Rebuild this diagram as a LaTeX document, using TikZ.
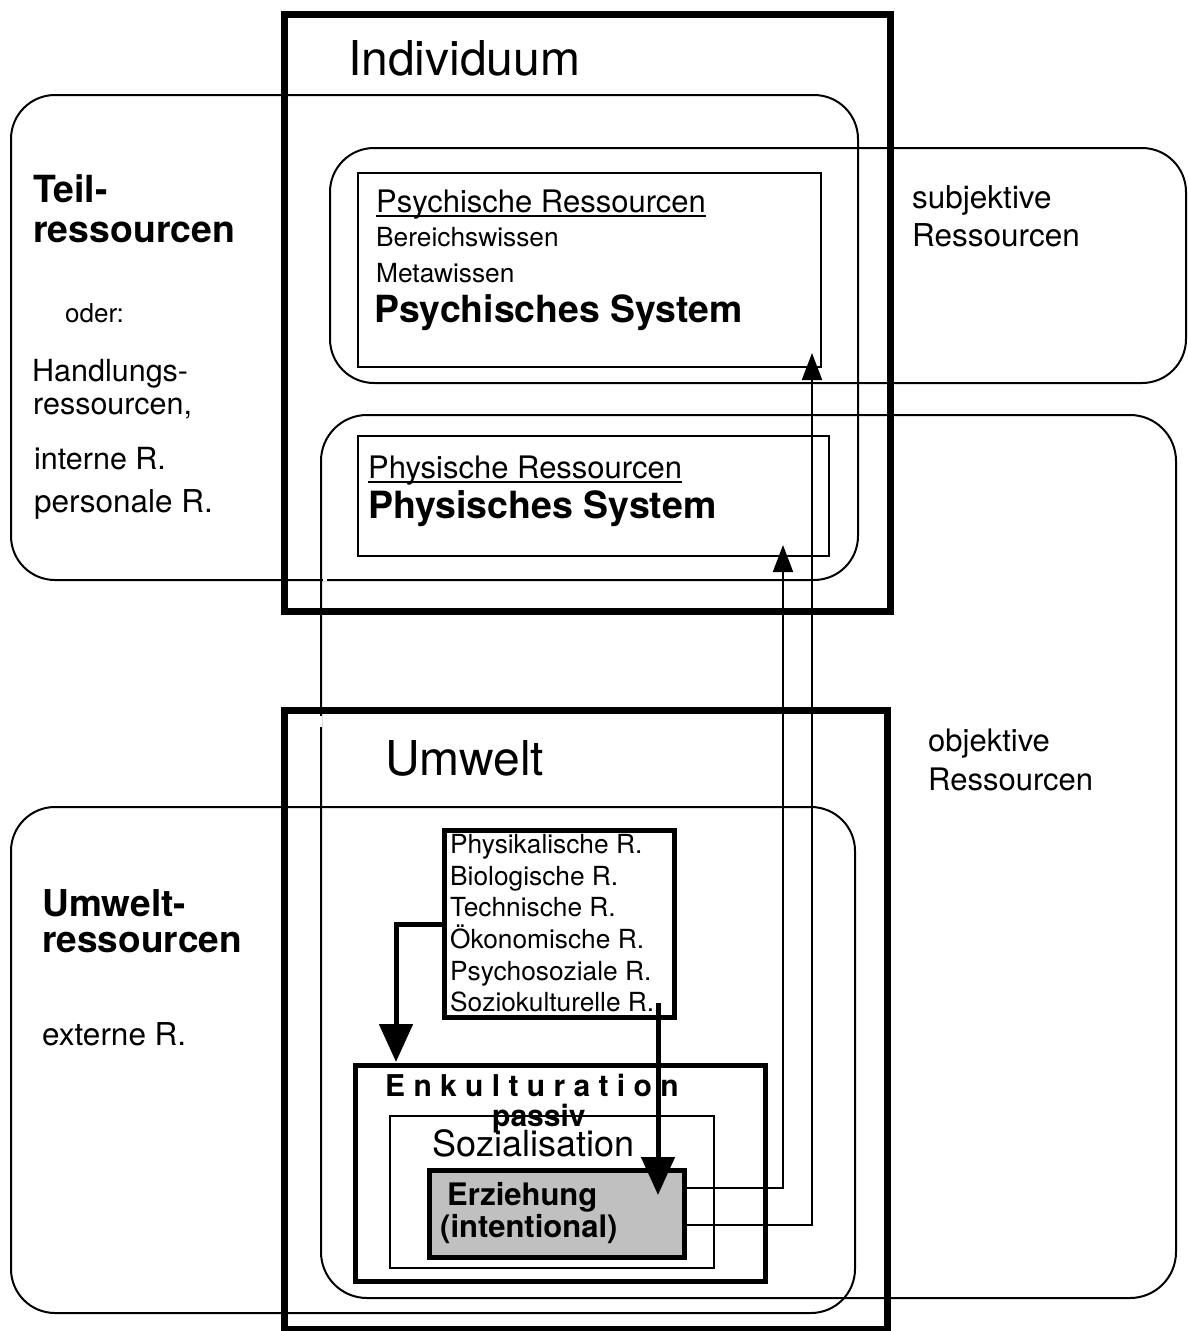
\documentclass[tikz,border=0pt]{standalone}
\usepackage{fontspec}
\setmainfont{TeX Gyre Heros}
\usetikzlibrary{arrows.meta}
\definecolor{erzgray}{HTML}{C0C0C0}
\begin{document}
\begin{tikzpicture}[x=1pt,y=-1pt,
  boxbase/.style={draw, inner sep=0pt, anchor=north west},
  rbox/.style={boxbase, line width=2pt, rounded corners=44pt},
  thinbox/.style={boxbase, line width=2pt},
  heavybox/.style={boxbase, line width=7pt},
  midbox/.style={boxbase, line width=5pt},
  txt/.style={inner sep=0pt, anchor=base west},
  thinarrow/.style={line width=2pt, -{Triangle[width=20pt,length=27pt]}},
  heavyarrow/.style={line width=5pt, -{Triangle[width=33pt,length=38pt]}},
  f/.style={font=\fontsize{#1}{#1}\selectfont},
  fb/.style={font=\fontsize{#1}{#1}\selectfont\bfseries}
]
\useasboundingbox (0,0) rectangle (1187,1331);

% rounded resource areas
\node[rbox, minimum width=847pt, minimum height=485pt] (teil) at (10,94) {};
\draw[white, line width=3pt] (322.5,579) -- (327,579);
\node[rbox, minimum width=856pt, minimum height=235pt] (subj) at (329,147) {};
\node[rbox, minimum width=855pt, minimum height=883pt, rounded corners=46pt] (objk) at (320,414) {};
\node[rbox, minimum width=844pt, minimum height=506pt] (umres) at (10,806) {};
\draw[white, line width=4pt] (320,716) -- (320,727);

% inner thin rectangles
\node[thinbox, minimum width=463pt, minimum height=194pt] (psy) at (357,172) {};
\node[thinbox, minimum width=471pt, minimum height=120pt] (phy) at (357,435) {};

% heavy frames
\node[heavybox, minimum width=606pt, minimum height=597pt] (indiv) at (281,11) {};
\node[heavybox, minimum width=603pt, minimum height=619pt] (umw) at (281,707) {};

% environment boxes
\node[midbox, minimum width=230pt, minimum height=187pt] (phyk) at (442,828) {};
\node[midbox, minimum width=410pt, minimum height=216pt] (enk) at (353,1063) {};
\node[thinbox, minimum width=324pt, minimum height=152pt] (soz) at (389,1115) {};
\node[midbox, fill=erzgray, minimum width=255pt, minimum height=87pt] (erz) at (427,1168) {};

% coordinates for connector ends
\coordinate (tipPhy) at (783,545);
\coordinate (tipPsy) at (812,353);
\coordinate (tipEnk) at (396,1062);
\coordinate (startSoz) at (658,1003);
\coordinate (tipErz) at (658,1195);

% connectors
\draw[thinarrow] ([yshift=26.5pt]erz.east) -| (tipPhy);
\draw[thinarrow] ([yshift=-10.5pt]erz.east) -| (tipPsy);
\draw[heavyarrow] (phyk.west) -| (tipEnk);
\draw[heavyarrow] (startSoz) -- (tipErz);

% texts
\node[txt, f=48] (tIndiv) at (348,75) {Individuum};
\node[txt, f=48] (tUmw) at (385,775) {Umwelt};

\node[txt, f=31] (tPsyR) at (376,212) {Psychische Ressourcen};
\draw[line width=1.6pt] ([yshift=-4pt]tPsyR.base west) -- ([yshift=-4pt]tPsyR.base east);
\node[txt, f=26.3] (tBer) at (376,246) {Bereichswissen};
\node[txt, f=26.3] (tMeta) at (376,282) {Metawissen};
\node[txt, fb=37.4] (tPsyS) at (374,322) {Psychisches System};

\node[txt, f=31] (tPhyR) at (368,478) {Physische Ressourcen};
\draw[line width=1.6pt] ([yshift=-4pt]tPhyR.base west) -- ([yshift=-4pt]tPhyR.base east);
\node[txt, fb=37.5] (tPhyS) at (368,518) {Physisches System};

\node[txt, fb=37.4] (tTeilA) at (33,202) {Teil-};
\node[txt, fb=37.4] (tTeilB) at (33,242) {ressourcen};
\node[txt, f=26] (tOder) at (65,322) {oder:};
\node[txt, f=30.5] (tHandA) at (32,381) {Handlungs-};
\node[txt, f=30.5] (tHandB) at (33,414) {ressourcen,};
\node[txt, f=30.5] (tInt) at (34,469) {interne R.};
\node[txt, f=31.5] (tPers) at (34,512) {personale R.};

\node[txt, f=31.5] (tSubA) at (912,208) {subjektive};
\node[txt, f=31.5] (tSubB) at (912,246) {Ressourcen};
\node[txt, f=31] (tObjA) at (928,751) {objektive};
\node[txt, f=31] (tObjB) at (928,790) {Ressourcen};

\node[txt, fb=37] (tUmA) at (42,916) {Umwelt-};
\node[txt, fb=37] (tUmB) at (42,952) {ressourcen};
\node[txt, f=31.5] (tExt) at (42,1045) {externe R.};

\node[txt, f=26.3] (tL1) at (450,853) {Physikalische R.};
\node[txt, f=26.3] (tL2) at (450,885) {Biologische R.};
\node[txt, f=26.3] (tL3) at (450,916) {Technische R.};
\node[txt, f=26.3] (tL4) at (450,948) {Ökonomische R.};
\node[txt, f=26.3] (tL5) at (450,980) {Psychosoziale R.};
\node[txt, f=26.3] (tL6) at (450,1011) {Soziokulturelle R.};

\node[txt, fb=30] (tEnk) at (385,1096) {E n k u l t u r a t i o n};
\node[txt, fb=30] (tPass) at (492,1126) {passiv};
\node[txt, f=36] (tSoz) at (432,1156) {Sozialisation};
\node[txt, fb=31] (tErzA) at (447,1205) {Erziehung};
\node[txt, fb=31] (tErzB) at (440,1237) {(intentional)};
\end{tikzpicture}
\end{document}
